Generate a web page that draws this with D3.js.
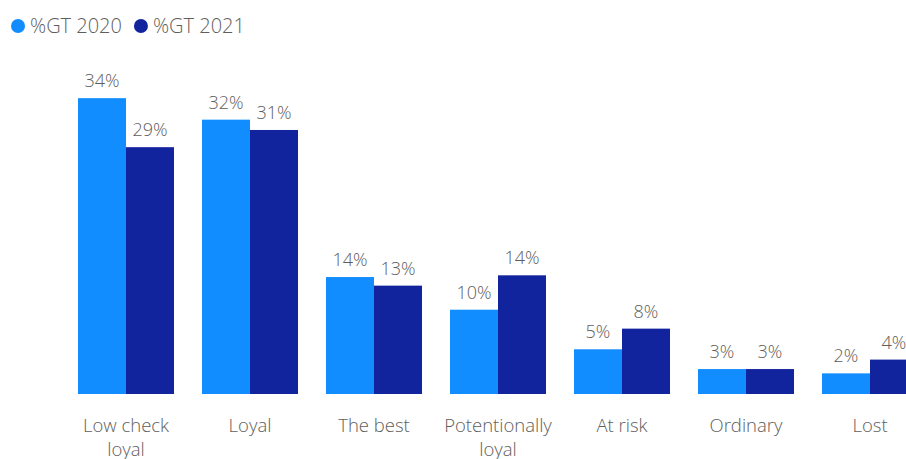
<!DOCTYPE html>
<html>
<head>
<meta charset="utf-8">
<script src="https://cdn.jsdelivr.net/npm/d3@7"></script>
<style>
  html, body { margin: 0; padding: 0; background: #fff; }
  svg { display: block; }
  svg text { font-family: "Segoe UI", "Open Sans", "Noto Sans", sans-serif; font-weight: 300; }
</style>
</head>
<body>
<svg id="chart" width="906" height="459"></svg>
<script>
// Customer segments and their share of GT in each year
const categories = ["Low check\nloyal", "Loyal", "The best", "Potentionally\nloyal", "At risk", "Ordinary", "Lost"];
const seriesNames = ["%GT 2020", "%GT 2021"];
const gt2020 = [0.344, 0.319, 0.136, 0.098, 0.052, 0.029, 0.024];
const gt2021 = [0.287, 0.307, 0.126, 0.138, 0.076, 0.029, 0.040];
const colors = ["#118DFF", "#12239E"];

const svg = d3.select("#chart");
const textColor = "#605E5C";

const rows = categories.map((c, i) => ({ cat: c, values: [gt2020[i], gt2021[i]] }));

const baseline = 394;
const x0 = d3.scaleBand().domain(categories).range([64, 932]).paddingInner(0.226).paddingOuter(0.113);
const x1 = d3.scaleBand().domain(seriesNames).range([0, x0.bandwidth()]);
const y = d3.scaleLinear().domain([0, 0.36]).range([baseline, baseline - 0.36 * 860]);
const fmt = d3.format(".0%");

const groups = svg.append("g").selectAll("g")
  .data(rows).join("g")
  .attr("transform", d => `translate(${x0(d.cat)},0)`);

groups.selectAll("rect")
  .data(d => d.values.map((v, j) => ({ v, s: seriesNames[j], j })))
  .join("rect")
  .attr("x", d => x1(d.s))
  .attr("width", x1.bandwidth())
  .attr("y", d => y(d.v))
  .attr("height", d => baseline - y(d.v))
  .attr("fill", d => colors[d.j]);

groups.selectAll("text.val")
  .data(d => d.values.map((v, j) => ({ v, s: seriesNames[j], j })))
  .join("text")
  .attr("class", "val")
  .attr("x", d => x1(d.s) + x1.bandwidth() / 2)
  .attr("y", d => y(d.v) - 11)
  .attr("text-anchor", "middle")
  .attr("fill", textColor)
  .style("font-size", "18px")
  .text(d => fmt(d.v));

// Category axis labels (no axis line)
const xAxis = svg.append("g").attr("transform", `translate(0,${baseline})`)
  .call(d3.axisBottom(x0).tickSize(0).tickFormat(""));
xAxis.select(".domain").remove();
xAxis.selectAll(".tick").each(function(d) {
  const lines = d.split("\n");
  const t = d3.select(this).append("text")
    .attr("text-anchor", "middle")
    .attr("fill", textColor)
    .style("font-size", "18.5px");
  lines.forEach((ln, k) => {
    t.append("tspan").attr("x", 0).attr("y", 37.5 + k * 24).text(ln);
  });
});

// Legend
const legend = svg.append("g");
let lx = 18;
seriesNames.forEach((name, j) => {
  legend.append("circle").attr("cx", lx).attr("cy", 26).attr("r", 7).attr("fill", colors[j]);
  const t = legend.append("text").attr("x", lx + 12).attr("y", 32.5)
    .attr("fill", textColor).style("font-size", "20px").text(name);
  lx += 12 + t.node().getComputedTextLength() + 19;
});
</script>
</body>
</html>
